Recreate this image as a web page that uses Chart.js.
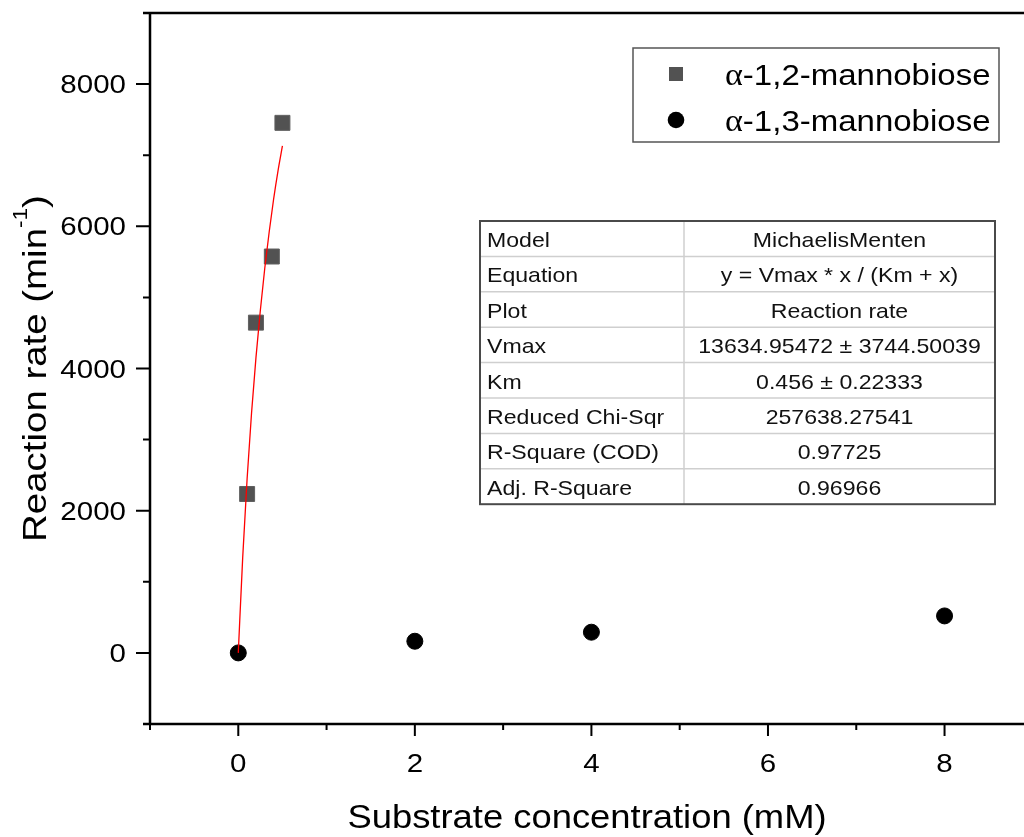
<!DOCTYPE html>
<html>
<head>
<meta charset="utf-8">
<script src="https://cdn.jsdelivr.net/npm/chart.js@4/dist/chart.umd.min.js"></script>
<style>
  html, body { margin: 0; padding: 0; background: #fff; overflow: hidden; }
  #wrap { width: 1024px; height: 837px; }
</style>
</head>
<body>
<div id="wrap"><canvas id="rateChart"></canvas></div>
<script>
// measured reaction rates (min-1) against substrate concentration (mM)
const conc12 = [0.1, 0.2, 0.38, 0.5];
const rate12 = [2235, 4645, 5575, 7455];
const conc13 = [0, 2, 4, 8];
const rate13 = [0, 164, 291, 520];

// Michaelis-Menten fit line for the 1,2 series
const fitConc = [0, 0.05, 0.1, 0.15, 0.2, 0.25, 0.3, 0.35, 0.4, 0.45, 0.5];
const fitRate = [0, 1340, 2450, 3370, 4150, 4820, 5410, 5920, 6380, 6780, 7130];

const seriesNames = ['-1,2-mannobiose', '-1,3-mannobiose'];
const xTickLabels = [0, 2, 4, 6, 8];
const yTickLabels = [0, 2000, 4000, 6000, 8000];

// fit report
const fitKeys = ['Model', 'Equation', 'Plot', 'Vmax', 'Km', 'Reduced Chi-Sqr', 'R-Square (COD)', 'Adj. R-Square'];
const fitValues = ['MichaelisMenten', 'y = Vmax * x / (Km + x)', 'Reaction rate',
  '13634.95472 \u00b1 3744.50039', '0.456 \u00b1 0.22333', '257638.27541', '0.97725', '0.96966'];

const SANS = '"Liberation Sans", Arial, sans-serif';
const SERIF = '"Liberation Serif", "Times New Roman", serif';

function toPoints(xs, ys) {
  return xs.map(function(x, i) { return { x: x, y: ys[i] }; });
}

// text drawn a little wider than the font's natural width
function wideText(ctx, text, x, y, sx, align) {
  ctx.save();
  ctx.translate(x, y);
  ctx.scale(sx, 1);
  ctx.textAlign = align;
  ctx.textBaseline = 'alphabetic';
  ctx.fillText(text, 0, 0);
  ctx.restore();
}

const axesPlugin = {
  id: 'axesPlugin',
  afterDraw: function(chart) {
    const ctx = chart.ctx;
    const a = chart.chartArea;
    const xs = chart.scales.x;
    const ys = chart.scales.y;
    ctx.save();

    // frame: left, top, bottom
    ctx.strokeStyle = '#000';
    ctx.lineWidth = 2.5;
    ctx.beginPath();
    ctx.moveTo(a.left - 7, a.top); ctx.lineTo(a.right, a.top);
    ctx.moveTo(a.left, a.top); ctx.lineTo(a.left, a.bottom);
    ctx.moveTo(a.left - 7, a.bottom); ctx.lineTo(a.right, a.bottom);
    ctx.stroke();

    // tick marks, long on labelled values
    ctx.lineWidth = 2;
    ctx.beginPath();
    xs.ticks.forEach(function(t) {
      if (!Number.isInteger(t.value)) return;
      const px = xs.getPixelForValue(t.value);
      const len = xTickLabels.indexOf(t.value) >= 0 ? 12 : 6;
      ctx.moveTo(px, a.bottom); ctx.lineTo(px, a.bottom + len);
    });
    ys.ticks.forEach(function(t) {
      const py = ys.getPixelForValue(t.value);
      const len = yTickLabels.indexOf(t.value) >= 0 ? 14 : 7;
      ctx.moveTo(a.left, py); ctx.lineTo(a.left - len, py);
    });
    ctx.stroke();

    // tick labels
    ctx.fillStyle = '#000';
    ctx.font = '25px ' + SANS;
    xTickLabels.forEach(function(v) {
      wideText(ctx, String(v), xs.getPixelForValue(v), a.bottom + 48, 1.18, 'center');
    });
    yTickLabels.forEach(function(v) {
      wideText(ctx, String(v), a.left - 24, ys.getPixelForValue(v) + 9, 1.18, 'right');
    });

    // axis titles
    ctx.font = '34px ' + SANS;
    wideText(ctx, 'Substrate concentration (mM)', (a.left + a.right) / 2, 828, 1.07, 'center');

    const p1 = 'Reaction rate (min', sup = '-1', p3 = ')';
    ctx.font = '34px ' + SANS;
    const w1 = ctx.measureText(p1).width, w3 = ctx.measureText(p3).width;
    ctx.font = '20px ' + SANS;
    const w2 = ctx.measureText(sup).width;
    const sy = 1.13;
    const total = (w1 + w2 + w3) * sy;
    ctx.save();
    ctx.translate(46, (a.top + a.bottom) / 2);
    ctx.rotate(-Math.PI / 2);
    let pos = -total / 2;
    ctx.font = '34px ' + SANS;
    wideText(ctx, p1, pos, 0, sy, 'left'); pos += w1 * sy;
    ctx.font = '20px ' + SANS;
    wideText(ctx, sup, pos, -19, sy, 'left'); pos += w2 * sy;
    ctx.font = '34px ' + SANS;
    wideText(ctx, p3, pos, 0, sy, 'left');
    ctx.restore();

    ctx.restore();
  }
};

const boxesPlugin = {
  id: 'boxesPlugin',
  afterDraw: function(chart) {
    const ctx = chart.ctx;
    ctx.save();

    // legend
    ctx.fillStyle = '#fff';
    ctx.fillRect(633, 48, 366, 94);
    ctx.strokeStyle = '#555';
    ctx.lineWidth = 1.5;
    ctx.strokeRect(633, 48, 366, 94);
    ctx.fillStyle = '#525252';
    ctx.fillRect(669, 67, 14, 14);
    ctx.fillStyle = '#000';
    ctx.beginPath();
    ctx.arc(676, 120, 8.3, 0, Math.PI * 2);
    ctx.fill();
    seriesNames.forEach(function(name, i) {
      const base = 85 + i * 45.5;
      ctx.font = '31px ' + SERIF;
      const wa = ctx.measureText('\u03b1').width * 1.1;
      wideText(ctx, '\u03b1', 725, base, 1.1, 'left');
      ctx.font = '30px ' + SANS;
      wideText(ctx, name, 725 + wa, base, 1.1, 'left');
    });

    // fit parameter table
    const tx = 480, tw = 515, col = 684, ty = 221, rh = 35.4;
    const th = rh * fitKeys.length;
    ctx.fillStyle = '#fff';
    ctx.fillRect(tx, ty, tw, th);
    ctx.strokeStyle = '#cfcfcf';
    ctx.lineWidth = 1.5;
    ctx.beginPath();
    for (let i = 1; i < fitKeys.length; i++) {
      ctx.moveTo(tx, ty + i * rh); ctx.lineTo(tx + tw, ty + i * rh);
    }
    ctx.moveTo(col, ty); ctx.lineTo(col, ty + th);
    ctx.stroke();
    ctx.strokeStyle = '#4a4a4a';
    ctx.lineWidth = 2;
    ctx.strokeRect(tx, ty, tw, th);

    ctx.fillStyle = '#111';
    ctx.font = '21px ' + SANS;
    fitKeys.forEach(function(k, i) {
      const base = ty + i * rh + 26;
      wideText(ctx, k, tx + 7, base, 1.1, 'left');
      wideText(ctx, fitValues[i], (col + tx + tw) / 2, base, 1.1, 'center');
    });

    ctx.restore();
  }
};

new Chart(document.getElementById('rateChart'), {
  type: 'scatter',
  data: {
    datasets: [
      {
        label: 'fit',
        type: 'line',
        data: toPoints(fitConc, fitRate),
        borderColor: '#ff0000',
        borderWidth: 1.3,
        pointRadius: 0,
        showLine: true,
        fill: false,
        cubicInterpolationMode: 'monotone',
        order: 0
      },
      {
        label: seriesNames[0],
        data: toPoints(conc12, rate12),
        pointStyle: 'rect',
        pointRadius: 10.6,
        backgroundColor: '#525252',
        borderColor: '#606060',
        borderWidth: 1,
        order: 2
      },
      {
        label: seriesNames[1],
        data: toPoints(conc13, rate13),
        pointStyle: 'circle',
        pointRadius: 8,
        backgroundColor: '#000',
        borderColor: '#000',
        borderWidth: 1,
        order: 1
      }
    ]
  },
  options: {
    responsive: true,
    maintainAspectRatio: false,
    animation: false,
    layout: { autoPadding: false, padding: { top: 13, right: 0, left: 0, bottom: 0 } },
    plugins: {
      legend: { display: false },
      tooltip: { enabled: false }
    },
    scales: {
      x: {
        type: 'linear',
        min: -1,
        max: 8.9,
        grid: { display: false },
        border: { display: false },
        ticks: { display: false, stepSize: 1, includeBounds: false },
        afterFit: function(scale) { scale.height = 113; }
      },
      y: {
        type: 'linear',
        min: -1000,
        max: 9000,
        grid: { display: false },
        border: { display: false },
        ticks: { display: false, stepSize: 1000 },
        afterFit: function(scale) { scale.width = 150; }
      }
    }
  },
  plugins: [axesPlugin, boxesPlugin]
});
</script>
</body>
</html>
